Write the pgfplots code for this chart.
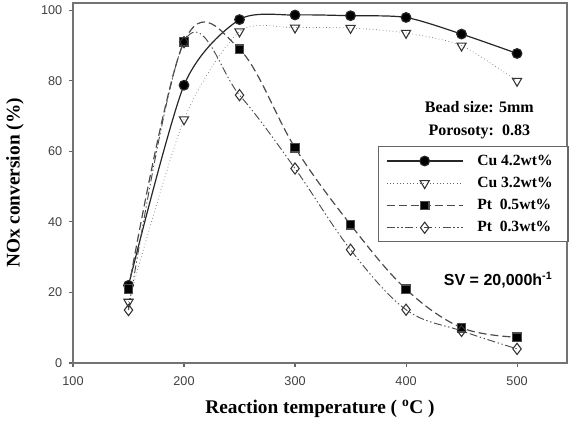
\documentclass[border=0pt]{standalone}
\usepackage{pgfplots}
\pgfplotsset{compat=1.18}
\usepackage{fontspec}
\setmainfont{Liberation Serif}
\setsansfont{Liberation Sans}

% NOx conversion of the four catalysts
\pgfplotstableread{
T    cu42  cu32  pt05  pt03
150  22.0  17.3  21.0  15.0
200  78.7  69.0  91.0  90.9
250  97.3  93.9  88.9  75.9
300  98.6  95.0  61.0  55.1
350  98.4  94.9  39.2  32.1
400  97.9  93.5  20.9  15.1
450  93.2  89.9  10.0   9.1
500  87.7  79.9   7.3   4.0
}\conv

\begin{document}
\begin{tikzpicture}
\begin{axis}[
  scale only axis,
  width=370.5pt, height=270pt,
  xmin=100, xmax=545, ymin=0, ymax=102,
  xtick={100,200,...,500}, ytick={0,20,...,100},
  /pgf/number format/assume math mode=true,
  tick label style={font=\sffamily\fontsize{9.5}{11}\selectfont, text=black!75},
  xticklabel style={yshift=-4pt},
  yticklabel style={xshift=-1.5pt},
  axis line style={black!55, line width=1pt},
  tick style={black!60, line width=0.8pt},
  tick align=outside, tick pos=left, major tick length=3pt,
  xlabel={\bfseries Reaction temperature ( \textsuperscript{o}C )},
  ylabel={\bfseries NOx conversion (\%)},
  label style={font=\fontsize{14.5}{16}\selectfont},
  xlabel style={at={(axis description cs:0.5,-0.1278)}, anchor=center},
  ylabel style={at={(axis description cs:-0.1174,0.5)}, anchor=center},
  legend style={at={(axis cs:375,61.4)}, anchor=north west,
    draw=black!60, line width=0.8pt,
    font=\bfseries\fontsize{11.7}{12.5}\selectfont,
    cells={anchor=west}, row sep=3.4pt, inner xsep=5.5pt, inner ysep=4pt},
  legend image code/.code={%
    \draw[#1, mark=none] (0cm,0cm) -- (2cm,0cm);
    \draw[#1, solid] plot coordinates {(1cm,0cm)};
    \path (2.3cm,0cm);},
]
\addplot[black!85, line width=0.9pt, smooth, tension=0.45, mark=*, mark size=3.6pt,
  mark options={fill=black, solid}] table[x=T, y=cu42] {\conv};
\addlegendentry{Cu 4.2wt\%\hspace*{4pt}}
\addplot[black!60, line width=0.5pt, dotted, smooth, tension=0.45,
  mark=triangle, mark size=4pt,
  mark options={fill=white, rotate=180, solid, black!80, line width=0.8pt}]
  table[x=T, y=cu32] {\conv};
\addlegendentry{Cu 3.2wt\%\hspace*{4pt}}
\addplot[black!70, line width=0.9pt, dash pattern=on 6pt off 3pt, smooth, tension=0.6,
  mark=square*, mark size=3.2pt, mark options={fill=black, solid}]
  table[x=T, y=pt05] {\conv};
\addlegendentry{Pt\ \ 0.5wt\%\hspace*{4pt}}
\addplot[black!70, line width=0.7pt, smooth, tension=0.6,
  dash pattern=on 6pt off 2pt on 1pt off 2pt on 1pt off 2pt,
  mark=diamond, mark size=4.2pt,
  mark options={fill=white, solid, black!80, line width=0.8pt}]
  table[x=T, y=pt03] {\conv};
\addlegendentry{Pt\ \ 0.3wt\%\hspace*{4pt}}

\node[font=\bfseries\fontsize{12}{14}\selectfont] at (axis cs:466,72.4) {Bead size: 5mm};
\node[font=\bfseries\fontsize{12}{14}\selectfont] at (axis cs:466,65.6) {Porosoty:\ \ 0.83};
\node[font=\sffamily\bfseries\fontsize{12}{14}\selectfont] at (axis cs:483,23.5)
  {SV = 20,000h\textsuperscript{-1}};
\end{axis}
% page frame around the axis and its labels
\pgfresetboundingbox
\path[use as bounding box] ([xshift=-54.75pt, yshift=-44.25pt]current axis.south west)
  rectangle ([xshift=7.5pt, yshift=2.25pt]current axis.north east);
\end{tikzpicture}
\end{document}
